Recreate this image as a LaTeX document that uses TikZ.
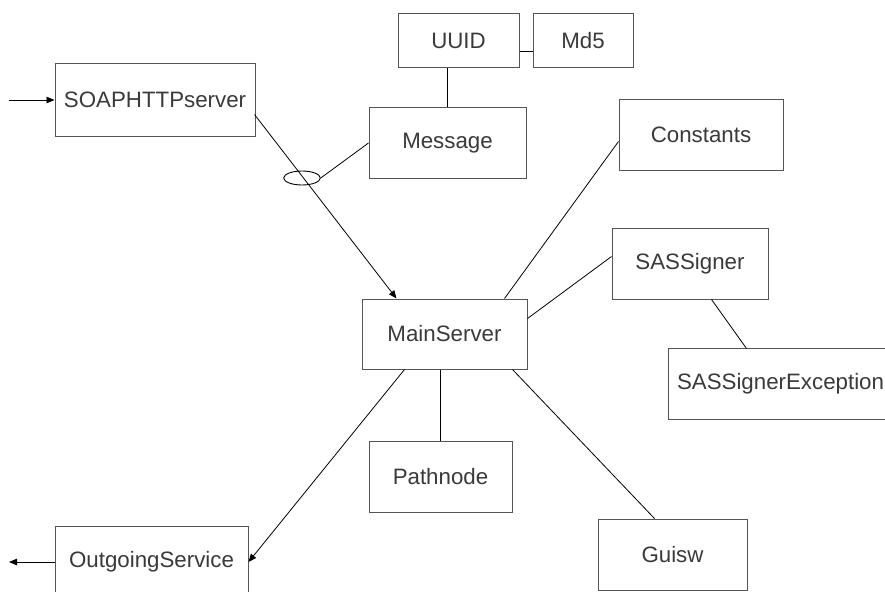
\documentclass[tikz,border=0pt]{standalone}
\usepackage{fontspec}
\setmainfont{Liberation Sans}
\usetikzlibrary{calc,arrows.meta,shapes.geometric}

\definecolor{boxline}{HTML}{555555}
\definecolor{boxtext}{HTML}{3A3A3A}

\tikzset{
  cls/.style={draw=boxline, line width=1pt, fill=white, rectangle, inner sep=0pt,
    text=boxtext, font=\fontsize{22.3}{26}\selectfont},
  clsopen/.style={cls, draw=none},
  clsedge/.style={draw=boxline, line width=1pt},
  link/.style={draw=black, line width=0.8pt},
  flow/.style={link, -{Triangle[length=8pt,width=6.5pt]}},
  assocmark/.style={draw=black, line width=0.9pt, ellipse, inner sep=0pt,
    minimum width=36.6pt, minimum height=14pt}
}

\begin{document}
\begin{tikzpicture}[x=1pt,y=-1pt]
\useasboundingbox (0,0) rectangle (885,591);

% class boxes
\node[cls, minimum width=200pt, minimum height=72pt] (soap)      at (155,100)   {SOAPHTTPserver};
\node[cls, minimum width=121pt, minimum height=54pt] (uuid)      at (458.5,41)  {UUID};
\node[cls, minimum width=100pt, minimum height=54pt] (md5)       at (583,41)    {Md5};
\node[cls, minimum width=157pt, minimum height=70pt] (message)   at (447.5,143) {Message};
\node[cls, minimum width=164pt, minimum height=70pt] (constants) at (701,135)   {Constants};
\node[cls, minimum width=156pt, minimum height=71pt] (sas)       at (690,263.5) {SASSigner};
\node[cls, minimum width=165pt, minimum height=70pt] (main)      at (444.5,334) {MainServer};
\node[cls, minimum width=143pt, minimum height=71pt] (pathnode)  at (440.5,476.5) {Pathnode};
\node[cls, minimum width=149pt, minimum height=71pt] (guisw)     at (672.5,554.5) {Guisw};
\node[cls, minimum width=193pt, minimum height=71pt] (outgoing)  at (151.5,562) {OutgoingService};

% the exception box runs off the right edge: only three sides are drawn
\node[clsopen, minimum width=250pt, minimum height=70pt] (sasexc) at (794,384)
  {\makebox[250pt][l]{\hspace{8pt}SASSignerException}};
\draw[clsedge] (sasexc.north east) -- (sasexc.north west) -- (sasexc.south west) -- (sasexc.south east);

% association marker on the incoming request path
\node[assocmark] (assoc) at (302,178) {};

% free ends of the external flows
\coordinate (inSrc)  at (9,100);
\coordinate (outDst) at (9,562);

% flows
\draw[flow] (inSrc) -- (soap.west);
\draw[flow] ($(soap.north west)+(200,51)$) -- ($(main.north west)+(35,0)$);
\draw[flow] ($(main.south west)+(43,0)$) -- (outgoing.east);
\draw[flow] (outgoing.west) -- (outDst);

% associations
\draw[link] (message.west) -- (assoc.east);
\draw[link] (uuid.south -| message.north) -- (message.north);
\draw[link] ([yshift=-10pt]uuid.east) -- ([yshift=-10pt]md5.west);
\draw[link] ($(constants.north west)+(0,42)$) -- ($(main.north west)+(143,0)$);
\draw[link] ($(sas.north west)+(0,29)$) -- ($(main.north east)+(0,20)$);
\draw[link] ($(sas.south west)+(100,0)$) -- ($(sasexc.north west)+(78,0)$);
\draw[link] (pathnode.north |- main.south) -- (pathnode.north);
\draw[link] ($(main.south west)+(151,0)$) -- ($(guisw.north west)+(57,0)$);
\end{tikzpicture}
\end{document}
